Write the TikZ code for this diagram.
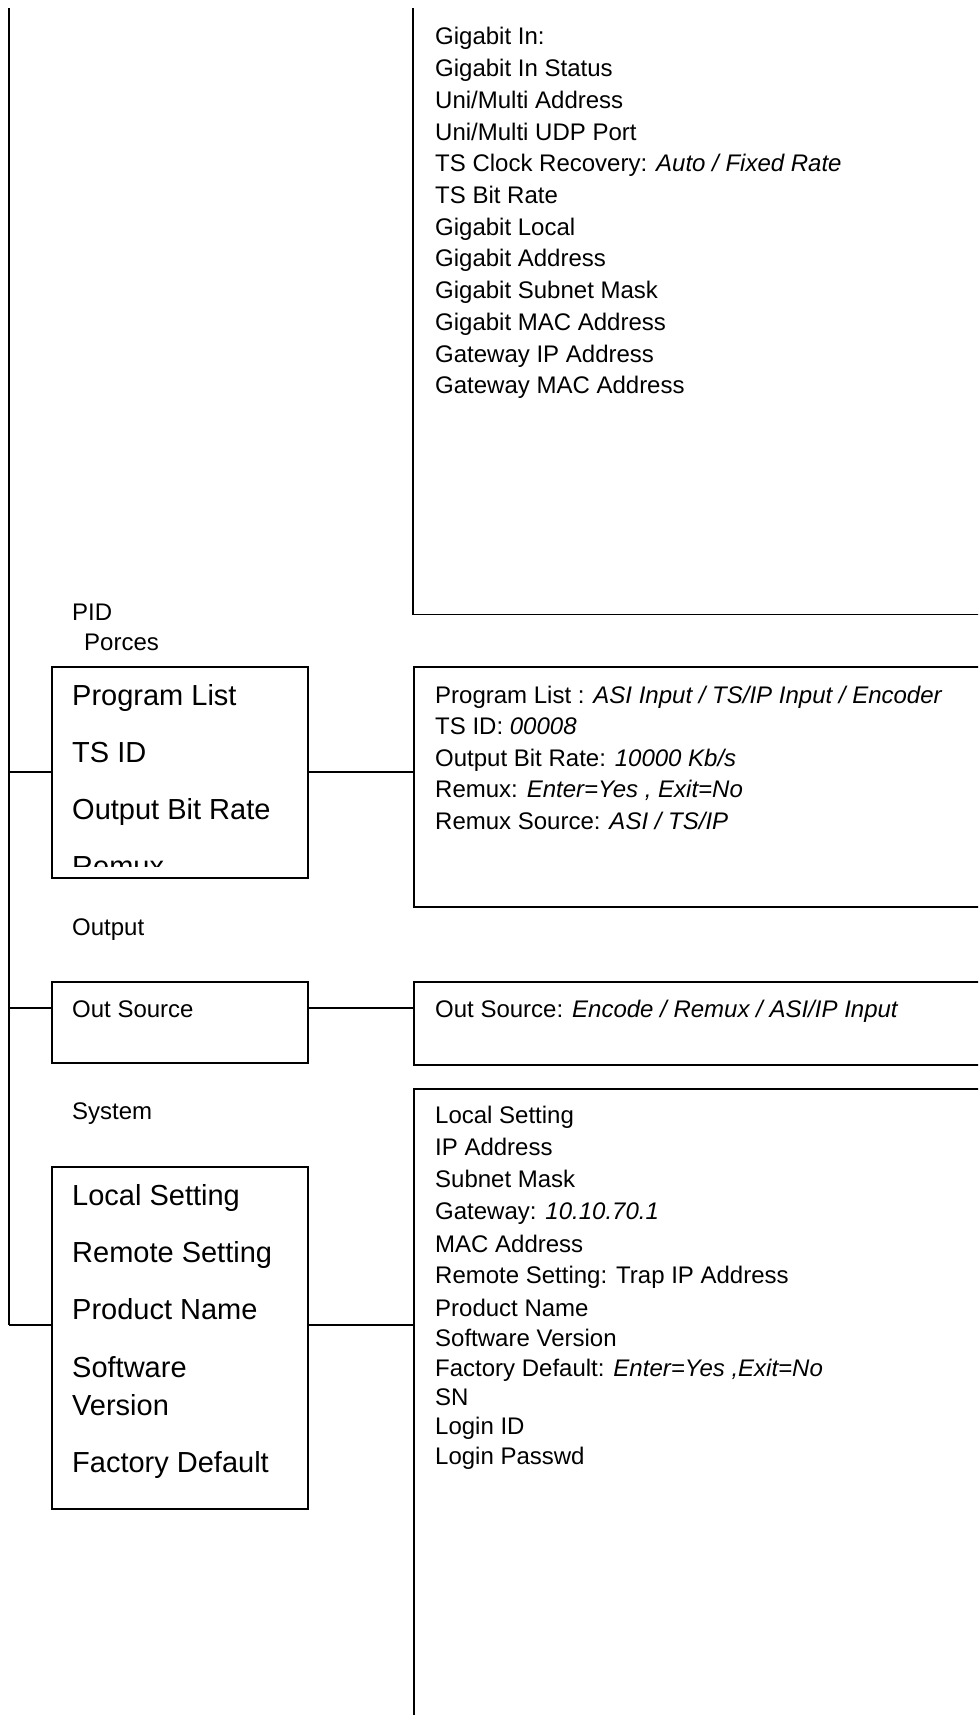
\documentclass[tikz,border=0pt]{standalone}
\usepackage{fontspec}
\setmainfont{Liberation Sans}
\begin{document}
\begin{tikzpicture}[x=1pt,y=-1pt,
  txt/.style={anchor=base west,inner sep=0pt,font=\fontsize{24}{28}\selectfont},
  bigtxt/.style={anchor=base west,inner sep=0pt,font=\fontsize{29}{34}\selectfont},
  box/.style={draw,line width=1.6pt,rectangle,inner sep=0pt,anchor=north west},
  conn/.style={line width=1.6pt}]
\clip (0,0) rectangle (978,1715);
% spine
\coordinate (top) at (9,8);
\coordinate (s1) at (9,772);
\coordinate (s2) at (9,1008);
\coordinate (s3) at (9,1325);
\draw[conn] (top) -- (s3);
% boxes
\node[rectangle,inner sep=0pt,anchor=north west,minimum width=600pt,minimum height=606pt] (gigright) at (413,8) {};
\draw[conn] (gigright.north west) -- (gigright.south west) -- (gigright.south east);
\node[box,minimum width=256pt,minimum height=211pt] (pidbox) at (51,666) {};
\node[box,minimum width=600pt,minimum height=240pt] (pidright) at (413,666) {};
\node[box,minimum width=256pt,minimum height=81pt] (outbox) at (51,981) {};
\node[box,minimum width=600pt,minimum height=83pt] (outright) at (413,981) {};
\node[box,minimum width=256pt,minimum height=342pt] (sysbox) at (51,1166) {};
\node[box,minimum width=600pt,minimum height=700pt] (sysright) at (413,1088) {};
% connectors
\draw[conn] (s1) -- (s1 -| pidbox.west) (s1 -| pidbox.east) -- (s1 -| pidright.west);
\draw[conn] (s2) -- (s2 -| outbox.west) (s2 -| outbox.east) -- (s2 -| outright.west);
\draw[conn] (s3) -- (s3 -| sysbox.west) (s3 -| sysbox.east) -- (s3 -| sysright.west);
% Gigabit texts
\node[txt] (g1) at (435,45) {Gigabit In:};
\node[txt] (g2) at (435,76.7) {Gigabit In Status};
\node[txt] (g3) at (435,108.4) {Uni/Multi Address};
\node[txt] (g4) at (435,140.1) {Uni/Multi UDP Port};
\node[txt] (g5) at (435,171.8) {TS Clock Recovery: \textit{Auto / Fixed Rate}};
\node[txt] (g6) at (435,203.5) {TS Bit Rate};
\node[txt] (g7) at (435,235.2) {Gigabit Local};
\node[txt] (g8) at (435,266.9) {Gigabit Address};
\node[txt] (g9) at (435,298.6) {Gigabit Subnet Mask};
\node[txt] (g10) at (435,330.3) {Gigabit MAC Address};
\node[txt] (g11) at (435,362) {Gateway IP Address};
\node[txt] (g12) at (435,393.7) {Gateway MAC Address};
% PID
\node[txt] (pidlbl) at (72,620) {PID};
\node[txt] (porceslbl) at (84,650) {Porces};
\node[bigtxt] (p1) at (72,705) {Program List};
\node[bigtxt] (p2) at (72,762) {TS ID};
\node[bigtxt] (p3) at (72,819) {Output Bit Rate};
\begin{scope}
\clip (51,666) rectangle (307,866);
\node[bigtxt] (p4) at (72,876) {Remux};
\end{scope}
\node[txt] (pr1) at (435,703) {Program List : \textit{ASI Input / TS/IP Input / Encoder}};
\node[txt] (pr2) at (435,734.5) {TS ID: \textit{00008}};
\node[txt] (pr3) at (435,766) {Output Bit Rate: \textit{10000 Kb/s}};
\node[txt] (pr4) at (435,797.5) {Remux: \textit{Enter=Yes , Exit=No}};
\node[txt] (pr5) at (435,829) {Remux Source: \textit{ASI / TS/IP}};
% Output
\node[txt] (outlbl) at (72,935) {Output};
\node[txt] (o1) at (72,1017) {Out Source};
\node[txt] (or1) at (435,1017) {Out Source: \textit{Encode / Remux / ASI/IP Input}};
% System
\node[txt] (syslbl) at (72,1119) {System};
\node[bigtxt] (y1) at (72,1205) {Local Setting};
\node[bigtxt] (y2) at (72,1262) {Remote Setting};
\node[bigtxt] (y3) at (72,1319) {Product Name};
\node[bigtxt] (y4) at (72,1377) {Software};
\node[bigtxt] (y5) at (72,1415) {Version};
\node[bigtxt] (y6) at (72,1472) {Factory Default};
\node[txt] (yr1) at (435,1123) {Local Setting};
\node[txt] (yr2) at (435,1155) {IP Address};
\node[txt] (yr3) at (435,1187) {Subnet Mask};
\node[txt] (yr4) at (435,1219) {Gateway: \textit{10.10.70.1}};
\node[txt] (yr5) at (435,1252) {MAC Address};
\node[txt] (yr6) at (435,1283) {Remote Setting: Trap IP Address};
\node[txt] (yr7) at (435,1316) {Product Name};
\node[txt] (yr8) at (435,1346) {Software Version};
\node[txt] (yr9) at (435,1376) {Factory Default: \textit{Enter=Yes ,Exit=No}};
\node[txt] (yr10) at (435,1405) {SN};
\node[txt] (yr11) at (435,1434) {Login ID};
\node[txt] (yr12) at (435,1464) {Login Passwd};
\end{tikzpicture}
\end{document}
